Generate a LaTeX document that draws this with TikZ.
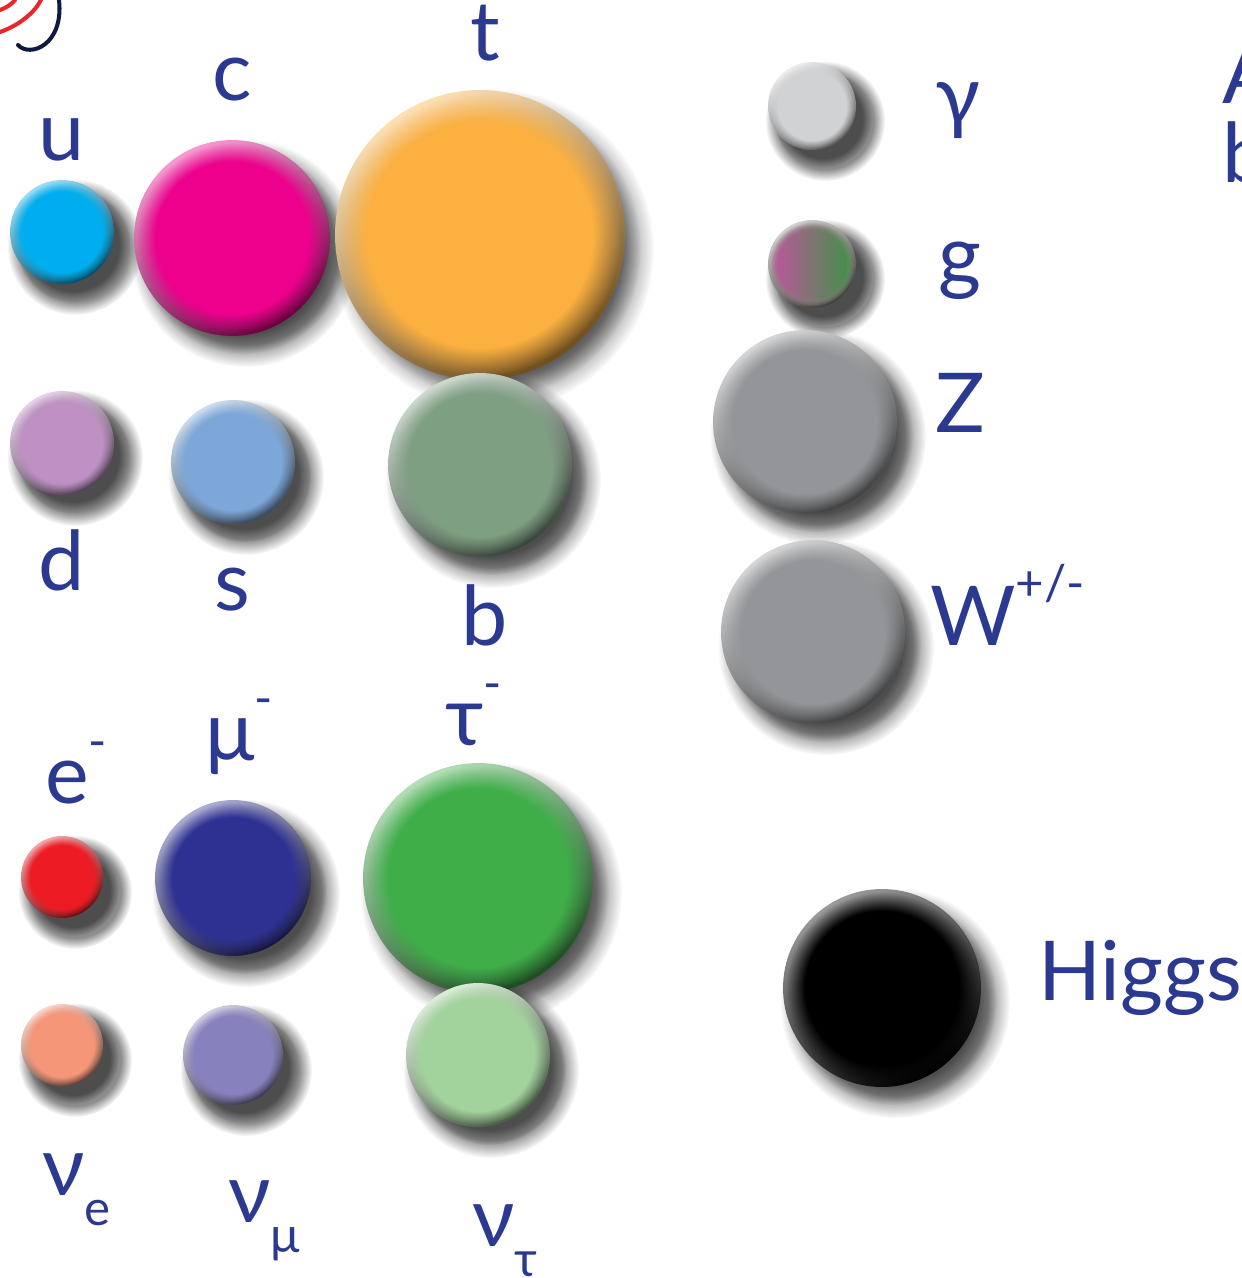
\documentclass[tikz,border=0pt]{standalone}
\usepackage{fontspec}
\setmainfont{Lato}
\usepackage{tikz}
\usetikzlibrary{calc,fadings}
\definecolor{partblue}{HTML}{2B3990}
\definecolor{ucol}{HTML}{00AEEF}
\definecolor{ccol}{HTML}{EC008C}
\definecolor{tcol}{HTML}{FBB040}
\definecolor{dcol}{HTML}{BE90C3}
\definecolor{scol}{HTML}{7DA7D9}
\definecolor{bcol}{HTML}{7F9F83}
\definecolor{gacol}{HTML}{D1D2D4}
\definecolor{gpink}{HTML}{C2549E}
\definecolor{ggray}{HTML}{8F8A87}
\definecolor{ggreen}{HTML}{3A9446}
\definecolor{zwcol}{HTML}{939598}
\definecolor{ecol}{HTML}{ED1C24}
\definecolor{mucol}{HTML}{2E3192}
\definecolor{taucol}{HTML}{3FAE49}
\definecolor{nuecol}{HTML}{F69679}
\definecolor{numucol}{HTML}{8781BD}
\definecolor{nutaucol}{HTML}{A3D39C}
\definecolor{arcred}{HTML}{E8262B}
\definecolor{arcnavy}{HTML}{101A40}

% ball: name, centre (px), radius (px), colour
\newcommand\particle[4]{%
  \fill[black,fill opacity=.45,path fading=circle with fuzzy edge 20 percent]
       ($(#2)+(13,15)$) circle ({#3+16});
  \fill[black,fill opacity=.45,path fading=circle with fuzzy edge 20 percent]
       ($(#2)+(11,13)$) circle ({#3+5});
  \node[circle,inner sep=0,minimum size={#3*0.04cm},top color=#4!40!white,
        bottom color=#4!45!black,shading angle=30] (#1) at (#2) {};
  \fill[#4,path fading=circle with fuzzy edge 20 percent] (#2) circle ({#3*0.97});
}
\newcommand\submark[1]{\raisebox{-0.6cm}{\fontsize{28}{28}\selectfont #1}}
\newcommand\supmark[1]{\raisebox{0.9cm}{\fontsize{28}{28}\selectfont #1}}

\begin{document}
\begin{tikzpicture}[x=0.02cm,y=-0.02cm,
    lbl/.style = {text=partblue,font=\fontsize{47}{52}\selectfont,inner sep=0},
    arc/.style = {line width=2.3pt,line cap=round},
  ]
  \useasboundingbox (0,0) rectangle (1241,1278);
  \clip (0,0) rectangle (1241,1278);

  % corner of the logo
  \draw[arc,arcred] (0,32) .. controls (20,25) and (35,12) .. (41,0);
  \draw[arc,arcred] (0,10) .. controls (6,8) and (12,4) .. (15,0);
  \draw[arc,arcnavy] (18,45) .. controls (30,58) and (64,45) .. (59,0);

  % quarks
  \particle{u}{62,232}{52}{ucol}
  \particle{c}{232,238}{98}{ccol}
  \particle{t}{480,235}{145}{tcol}
  \particle{d}{62,443}{52}{dcol}
  \particle{s}{233,462}{62}{scol}
  \particle{b}{480,465}{92}{bcol}

  % bosons
  \particle{gamma}{812,106}{44}{gacol}
  \particle{g}{812,264}{44}{ggray}
  \shade[left color=gpink,middle color=ggray,right color=ggreen,
         path fading=circle with fuzzy edge 20 percent] (812,264) circle (42);
  \particle{Z}{805,422}{92}{zwcol}
  \particle{W}{813,632}{92}{zwcol}
  \particle{H}{882,988}{99}{black}

  % leptons
  \particle{e}{62,877}{41}{ecol}
  \particle{mu}{233,878}{78}{mucol}
  \particle{tau}{478,878}{115}{taucol}
  \particle{nue}{62,1045}{41}{nuecol}
  \particle{numu}{233,1055}{50}{numucol}
  \particle{nutau}{478,1055}{72}{nutaucol}

  % labels
  \node[lbl,anchor=base] (ulab) at (62,160) {u};
  \node[lbl,anchor=base] (clab) at (232,100) {c};
  \node[lbl,anchor=base] (tlab) at (485,60) {t};
  \node[lbl,anchor=base] (dlab) at (62,590) {d};
  \node[lbl,anchor=base] (slab) at (232,610) {s};
  \node[lbl,anchor=base] (blab) at (485,645) {b};

  \node[lbl,anchor=base] (galab) at (958,124) {γ};
  \node[lbl,anchor=base] (glab) at (960,284) {g};
  \node[lbl,anchor=base] (zlab) at (960,432) {Z};
  \node[lbl,anchor=base west] (wlab) at (930,645) {W\supmark{+/-}};
  \node[lbl,anchor=base west] (hlab) at (1038,1000) {Higgs};

  \node[lbl,anchor=base west] (elab) at (45,803) {e\supmark{-}};
  \node[lbl,anchor=base west] (mulab) at (205,760) {μ\supmark{-}};
  \node[lbl,anchor=base west] (taulab) at (445,745) {τ\supmark{-}};
  \node[lbl,anchor=base west] (nuelab) at (42,1195) {ν\submark{e}};
  \node[lbl,anchor=base west] (numulab) at (228,1222) {ν\submark{μ}};
  \node[lbl,anchor=base west] (nutaulab) at (472,1246) {ν\submark{τ}};

  % text running off the right edge
  \node[lbl,anchor=base west] (alab) at (1222,103) {A};
  \node[lbl,anchor=base west] (bxlab) at (1222,182) {b};
\end{tikzpicture}
\end{document}
